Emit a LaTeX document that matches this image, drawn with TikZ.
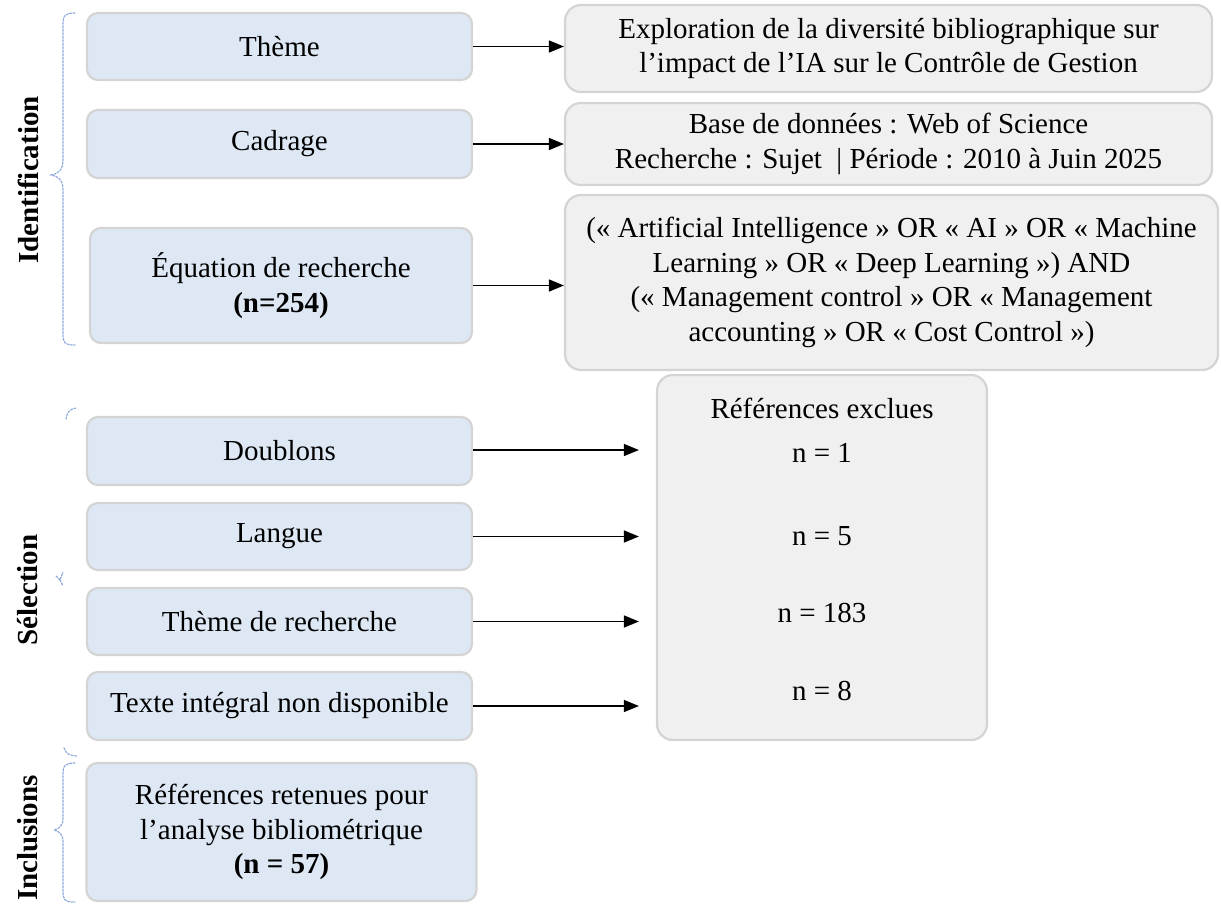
\documentclass[tikz,border=0pt]{standalone}
\usepackage{fontspec}
\setmainfont{Liberation Serif}
\usetikzlibrary{arrows.meta,calc}
\definecolor{lblue}{HTML}{DEE8F5}
\definecolor{lgray}{HTML}{F0F0F0}
\definecolor{bgray}{HTML}{D4D4D4}
\definecolor{brc}{HTML}{8FAADC}
\begin{document}
\begin{tikzpicture}[x=1pt,y=-1pt,
  every node/.style={font=\fontsize{29}{34.5}\selectfont, text=black},
  lbox/.style={draw=bgray, line width=2.2pt, fill=lblue, rounded corners=11pt, align=center, inner sep=0pt},
  rbox/.style={draw=bgray, line width=2.2pt, fill=lgray, rounded corners=16pt, align=center, inner sep=0pt},
  plain/.style={inner sep=0pt, align=center},
  arr/.style={line width=1.5pt, -{Triangle[length=15pt,width=12pt]}},
  side/.style={font=\fontsize{29}{34}\selectfont\bfseries, rotate=90, inner sep=0pt},
  brace/.style={draw=brc, line width=1.2pt, dash pattern=on 2pt off 1.5pt, line cap=round}
]
\useasboundingbox (0,0) rectangle (1221,906);

% left column
\node[lbox, minimum width=385pt, minimum height=67pt] (theme) at (279.5,46.5) {Thème};
\node[lbox, minimum width=385pt, minimum height=68pt] (cadr) at (279.5,144) {Cadrage};
\node[lbox, minimum width=382pt, minimum height=115pt] (equa) at (281,285.5) {Équation de recherche\\ \textbf{(n=254)}};
\node[lbox, minimum width=385pt, minimum height=68pt] (dbl) at (279.5,451) {Doublons};
\node[lbox, minimum width=385pt, minimum height=67pt] (lang) at (279.5,536.5) {Langue};
\node[lbox, minimum width=385pt, minimum height=67pt] (threch) at (279.5,621.5) {Thème de recherche};
\node[lbox, minimum width=385pt, minimum height=68pt] (texte) at (279.5,706) {Texte intégral non disponible};
\node[lbox, minimum width=390pt, minimum height=138pt] (ret) at (281.5,832) {Références retenues pour\\ l’analyse bibliométrique\\ \textbf{(n = 57)}};

% right column
\node[rbox, minimum width=647pt, minimum height=87pt] (expl) at (888.5,48.5) {Exploration de la diversité bibliographique sur\\ l’impact de l’IA sur le Contrôle de Gestion};
\node[rbox, minimum width=647pt, minimum height=82pt] (base) at (888.5,144) {Base de données : Web of Science\\ Recherche : Sujet \ | Période : 2010 à Juin 2025};
\node[rbox, minimum width=653pt, minimum height=175pt] (req) at (891.5,282.5) {(« Artificial Intelligence » OR « AI » OR « Machine\\ Learning » OR « Deep Learning ») AND\\ (« Management control » OR « Management\\ accounting » OR « Cost Control »)};
\node[rbox, minimum width=330pt, minimum height=365pt] (excl) at (822,557.5) {};
\node[plain] (exT) at (822,408) {Références exclues};
\node[plain] (n1) at (822,453) {n = 1};
\node[plain] (n5) at (822,536) {n = 5};
\node[plain] (n183) at (822,613) {n = 183};
\node[plain] (n8) at (822,691) {n = 8};

% arrows
\draw[arr] (theme.east) -- (theme.east -| expl.west);
\draw[arr] (cadr.east) -- (cadr.east -| base.west);
\draw[arr] (equa.east) -- (equa.east -| req.west);
\draw[arr, shorten >=17pt] ([yshift=1pt]dbl.east) -- ([yshift=1pt]dbl.east -| excl.west);
\draw[arr, shorten >=17pt] (lang.east) -- (lang.east -| excl.west);
\draw[arr, shorten >=17pt] (threch.east) -- (threch.east -| excl.west);
\draw[arr, shorten >=17pt] (texte.east) -- (texte.east -| excl.west);

% side labels
\node[side] (lid) at (28,180) {Identification};
\node[side] (lsel) at (28,590) {Sélection};
\node[side] (linc) at (28,838) {Inclusions};

% braces
\draw[brace] (75,13) .. controls (64,13) and (63,16) .. (63,26) -- (63,160) .. controls (63,170) and (58,174) .. (51,175) .. controls (58,176) and (63,180) .. (63,190) -- (63,333) .. controls (63,343) and (64,345) .. (75,345);
\draw[brace] (75,763) .. controls (64,763) and (63,766) .. (63,776) -- (63,818) .. controls (63,826) and (59,829) .. (54,830) .. controls (59,831) and (63,834) .. (63,842) -- (63,890) .. controls (63,900) and (64,902) .. (75,902);
\draw[brace] (66,419) .. controls (67,412) and (70,409) .. (76,408);
\draw[brace] (56,576) -- (60,580) -- (63,572);
\draw[brace] (60,580) -- (63,586);
\draw[brace] (64,748) .. controls (66,754) and (70,756) .. (78,756);
\end{tikzpicture}
\end{document}
